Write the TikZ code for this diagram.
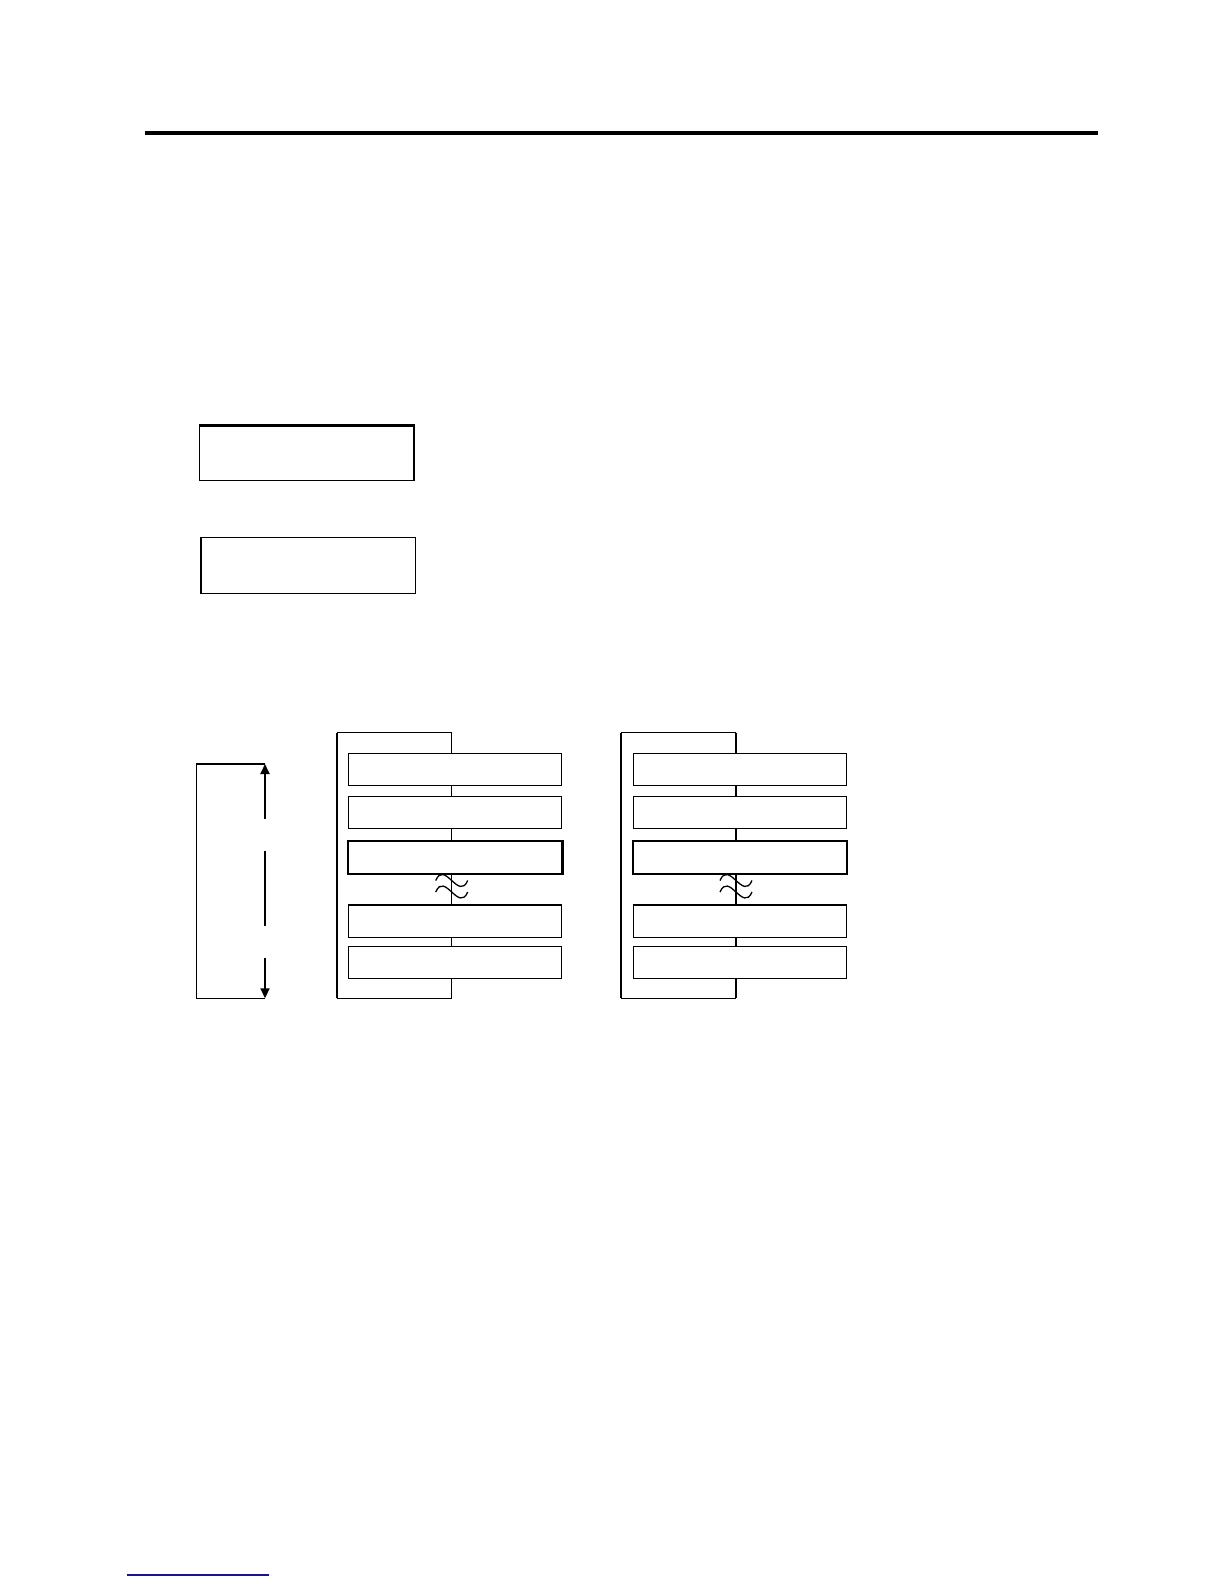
\documentclass[tikz,border=0pt]{standalone}
\usetikzlibrary{shapes.geometric, arrows, arrows.meta, calc, positioning}
\tikzstyle{panel} = [rectangle, draw=black, line width=1.1pt, minimum width=214pt, minimum height=55pt, inner sep=0pt, anchor=north west]
\tikzstyle{slot} = [rectangle, draw=black, line width=1.1pt, minimum width=213pt, minimum height=32pt, inner sep=0pt, anchor=north west]
\tikzstyle{frame} = [line width=1.1pt]
\tikzstyle{wave} = [line width=1.3pt]
\tikzstyle{arrow} = [line width=1.8pt, -{Triangle[width=9pt,length=10pt]}]
\definecolor{linkblue}{RGB}{20,20,140}

\begin{document}
\begin{tikzpicture}[x=1pt, y=-1pt]
		\useasboundingbox (0,0) rectangle (1224,1584);
		% header rule
		\coordinate (RuleL) at (145,132.8);
		\coordinate (RuleR) at (1098,132.8);
		\draw [line width=4.3pt] (RuleL) -- (RuleR);
		% two empty panels
		\node (PanelA) [panel] at (199,425.3) {};
		\node (PanelB) [panel, minimum height=56pt] at (201.3,537) {};
		\draw [line width=2.4pt] (PanelA.north west) -- (PanelA.north east) -- (PanelA.south east);
		\draw [line width=2.2pt] (PanelB.north west) -- (PanelB.south west);
		% dimension bracket
		\coordinate (DimTop) at (265,764);
		\coordinate (DimBot) at (265,998.3);
		\coordinate (DimTopL) at (196.3,764);
		\coordinate (DimBotL) at (196.3,998.3);
		\coordinate (DimUp) at (265,818.7);
		\coordinate (DimMidA) at (265,851);
		\coordinate (DimMidB) at (265,925.7);
		\coordinate (DimDown) at (265,957.7);
		\draw [frame] (DimTop) -- (DimTopL) -- (DimBotL) -- (DimBot);
		\draw [arrow] (DimUp) -- (DimTop);
		\draw [line width=1.8pt] (DimMidA) -- (DimMidB);
		\draw [arrow] (DimDown) -- (DimBot);
		% stacks of slots
		\foreach \col/\fx/\lw in {A/336.7/1.1, B/621/1.9} {
			\coordinate (Top\col) at (\fx,732.7);
			\coordinate (Bot\col) at (\fx,998.3);
			\coordinate (Lnk\col) at (\fx+115,732.7);
			\coordinate (LnkBot\col) at (\fx+115,998.3);
			\foreach \i/\y in {1/753.3, 2/796.3, 3/840.7, 4/904.7, 5/946.3}
				\node (Slot\col\i) [slot] at (\fx+11.6,\y) {};
			\draw [line width=2.2pt] (Slot\col3.north west) rectangle (Slot\col3.south east);
			\draw [line width=2.2pt] (Slot\col4.north west) -- (Slot\col4.north east);
			\draw [line width=\lw pt] (Lnk\col) -- (Lnk\col |- Slot\col1.north);
			\draw [line width=\lw pt] (Lnk\col |- Slot\col1.south) -- (Lnk\col |- Slot\col2.north);
			\draw [line width=\lw pt] (Lnk\col |- Slot\col2.south) -- (Lnk\col |- Slot\col3.north);
			\draw [line width=\lw pt] (Lnk\col |- Slot\col3.south) -- (Lnk\col |- Slot\col4.north);
			\draw [line width=\lw pt] (Lnk\col |- Slot\col4.south) -- (Lnk\col |- Slot\col5.north);
			\draw [line width=\lw pt] (Lnk\col |- Slot\col5.south) -- (LnkBot\col);
			\draw [frame] (Lnk\col) -- (Top\col);
			\draw [frame] (Bot\col) -- (LnkBot\col);
			\draw [line width=2pt] (Top\col) -- (Bot\col);
			% break mark
			\foreach \wy in {880.5, 892} {
				\draw [wave] (\fx+99,\wy) .. controls (\fx+108,\wy-21) and (\fx+122,\wy+21) .. (\fx+131,\wy);
			}
		}
		% footer link line
		\coordinate (LinkL) at (126.7,1575);
		\coordinate (LinkR) at (269,1575);
		\draw [linkblue, line width=1.4pt] (LinkL) -- (LinkR);
		\end{tikzpicture}
\end{document}
